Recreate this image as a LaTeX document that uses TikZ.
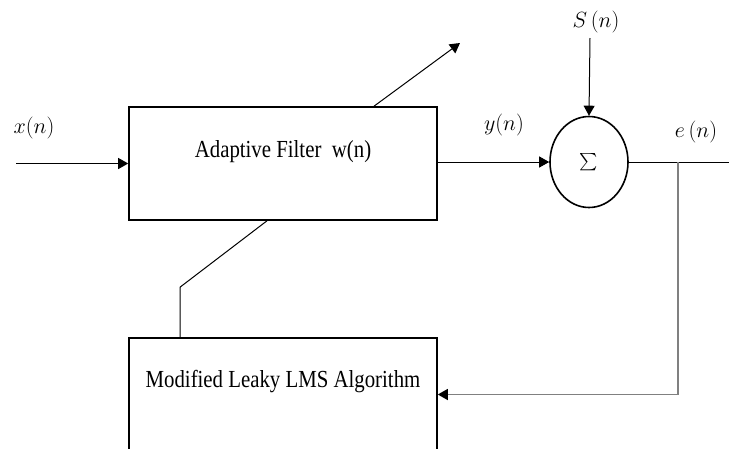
\RequirePackage{fix-cm}
\documentclass[tikz,border=0pt]{standalone}
\usepackage{amsmath}
\usepackage{exscale}
\usepackage{fontspec}
\newfontfamily\boxfont[FakeStretch=0.85]{Liberation Serif}
\usetikzlibrary{arrows.meta,shapes.geometric}

\begin{document}
\begin{tikzpicture}[
    x=1pt, y=-1pt,
    block/.style={draw, line width=1.6pt, minimum width=308pt, minimum height=113pt,
                  inner sep=0pt},
    btext/.style={font=\boxfont\fontsize{24.5}{29}\selectfont},
    summer/.style={draw, ellipse, line width=1.6pt, minimum width=78pt, minimum height=91pt,
                   inner sep=0pt, font=\fontsize{16}{19}\selectfont},
    sig/.style={font=\fontsize{22}{26}\selectfont, inner sep=0pt},
    arrow/.style={-{Triangle[length=10pt, width=11pt]}, line width=1pt},
    fback/.style={-{Triangle[length=10pt, width=11pt, black]}, line width=1.3pt, draw=gray}
  ]
    \useasboundingbox (0,0) rectangle (729,448);
    \clip (0,0) rectangle (729,448);
    \node[block, label={[btext, anchor=center, yshift=11.5pt]center:Adaptive Filter\ \ w(n)}]
        (filt) at (283,163.5) {};
    \node[block, label={[btext, anchor=center, yshift=12.5pt]center:Modified Leaky LMS Algorithm}]
        (lms) at (283,394.5) {};
    \node[summer] (sum) at (589,162) {$\textstyle\sum$};
    \node[sig] (xlab) at (34,128) {$x(n)$};
    \node[sig] (ylab) at (504,125) {$y(n)$};
    \node[sig] (slab) at (596,22) {$S\,(n)$};
    \node[sig] (elab) at (696,132) {$e\,(n)$};
    \coordinate (xin) at (16,163.5);
    \coordinate (sin) at (590,38);
    \coordinate (eout) at (729,162);
    \coordinate (tap) at (678,162);
    \coordinate (tune) at (460,43);
    \draw[arrow] (xin) -- (filt.west);
    \draw[arrow] (filt.east |- sum.west) -- (sum.west);
    \draw[arrow] (sin) -- (sum.north);
    \draw[line width=1pt] (sum.east) -- (eout);
    \draw[fback] (tap) |- (lms.east);
    \draw[arrow] ([xshift=91pt]filt.north) -- (tune);
    \draw[line width=1pt] ([xshift=-103pt]lms.north) -- ++(0,-50) -- ([xshift=-16pt]filt.south);
\end{tikzpicture}
\end{document}
